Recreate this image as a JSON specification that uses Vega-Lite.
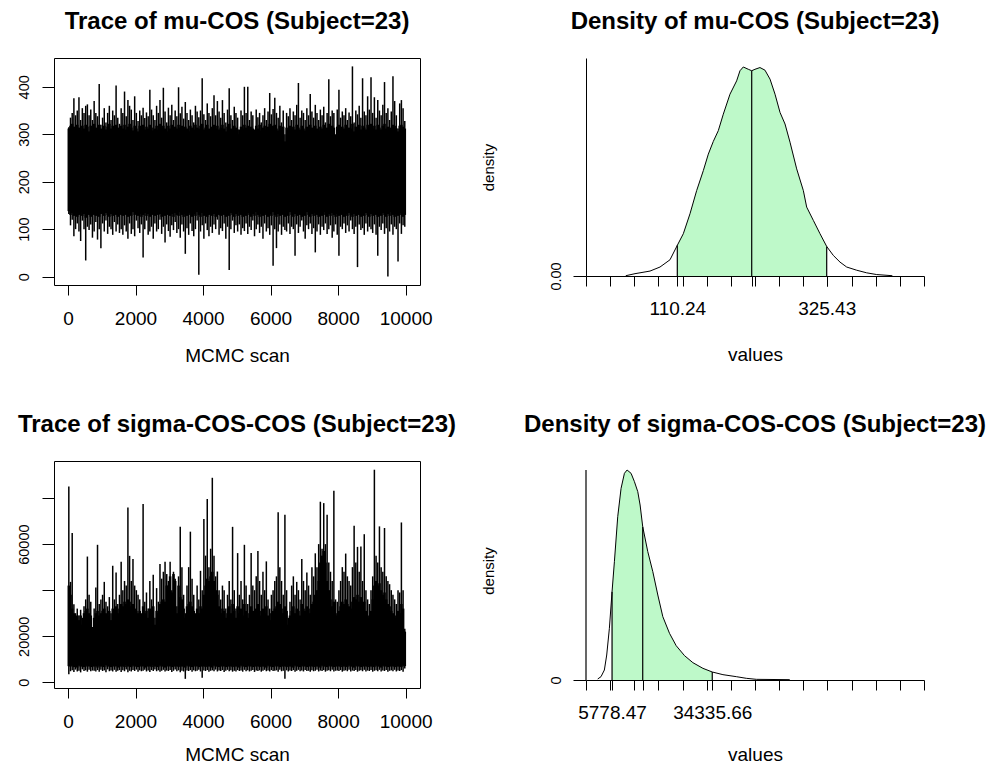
{
"$schema":"https://vega.github.io/schema/vega-lite/v6.json",
"background":"white",
"padding":{"left":15,"top":9,"right":0,"bottom":0},
"config":{
 "font":"Liberation Sans",
 "view":{"stroke":null},
 "axis":{"grid":false,"domainColor":"black","tickColor":"black","labelColor":"black","titleColor":"black","labelFont":"Liberation Sans","titleFont":"Liberation Sans","titleFontWeight":"normal","labelFontSize":19,"titleFontSize":19,"tickWidth":1,"domainWidth":1,"labelOverlap":false,"labelFlush":false},
 "title":{"font":"Liberation Sans","fontSize":24,"fontWeight":"bold","color":"black","anchor":"middle","baseline":"alphabetic","offset":24.3}
},
"datasets":{
"muTrace":[
{"i":25,"mn":132,"lo":138,"hi":312,"mx":315},{"i":75,"mn":108,"lo":130,"hi":318,"mx":335},{"i":125,"mn":120,"lo":134,"hi":322,"mx":345},{"i":175,"mn":85,"lo":128,"hi":316,"mx":376},{"i":225,"mn":100,"lo":132,"hi":310,"mx":340},{"i":275,"mn":112,"lo":126,"hi":320,"mx":350},{"i":325,"mn":95,"lo":130,"hi":314,"mx":378},{"i":375,"mn":75,"lo":136,"hi":308,"mx":330},{"i":425,"mn":118,"lo":128,"hi":318,"mx":355},{"i":475,"mn":100,"lo":132,"hi":312,"mx":345},
{"i":525,"mn":34,"lo":124,"hi":320,"mx":360},{"i":575,"mn":105,"lo":134,"hi":316,"mx":363},{"i":625,"mn":98,"lo":130,"hi":306,"mx":340},{"i":675,"mn":110,"lo":126,"hi":318,"mx":352},{"i":725,"mn":82,"lo":136,"hi":312,"mx":330},{"i":775,"mn":95,"lo":130,"hi":322,"mx":370},{"i":825,"mn":115,"lo":128,"hi":314,"mx":345},{"i":875,"mn":78,"lo":134,"hi":308,"mx":338},{"i":925,"mn":100,"lo":126,"hi":320,"mx":406},{"i":975,"mn":60,"lo":132,"hi":312,"mx":320},
{"i":1025,"mn":112,"lo":136,"hi":305,"mx":335},{"i":1075,"mn":95,"lo":128,"hi":318,"mx":355},{"i":1125,"mn":118,"lo":134,"hi":310,"mx":325},{"i":1175,"mn":90,"lo":130,"hi":316,"mx":345},{"i":1225,"mn":105,"lo":126,"hi":322,"mx":360},{"i":1275,"mn":100,"lo":132,"hi":312,"mx":330},{"i":1325,"mn":88,"lo":128,"hi":318,"mx":350},{"i":1375,"mn":115,"lo":136,"hi":310,"mx":340},{"i":1425,"mn":95,"lo":130,"hi":320,"mx":403},{"i":1475,"mn":110,"lo":126,"hi":314,"mx":335},
{"i":1525,"mn":92,"lo":134,"hi":306,"mx":322},{"i":1575,"mn":100,"lo":130,"hi":318,"mx":355},{"i":1625,"mn":88,"lo":128,"hi":312,"mx":345},{"i":1675,"mn":108,"lo":134,"hi":320,"mx":390},{"i":1725,"mn":95,"lo":130,"hi":310,"mx":338},{"i":1775,"mn":80,"lo":126,"hi":316,"mx":372},{"i":1825,"mn":112,"lo":132,"hi":322,"mx":360},{"i":1875,"mn":90,"lo":128,"hi":314,"mx":352},{"i":1925,"mn":100,"lo":136,"hi":308,"mx":330},{"i":1975,"mn":85,"lo":130,"hi":318,"mx":380},
{"i":2025,"mn":118,"lo":134,"hi":312,"mx":345},{"i":2075,"mn":102,"lo":128,"hi":306,"mx":328},{"i":2125,"mn":92,"lo":132,"hi":318,"mx":350},{"i":2175,"mn":110,"lo":126,"hi":314,"mx":340},{"i":2225,"mn":40,"lo":130,"hi":320,"mx":356},{"i":2275,"mn":100,"lo":134,"hi":310,"mx":334},{"i":2325,"mn":118,"lo":128,"hi":316,"mx":346},{"i":2375,"mn":88,"lo":132,"hi":312,"mx":338},{"i":2425,"mn":95,"lo":126,"hi":320,"mx":394},{"i":2475,"mn":105,"lo":134,"hi":314,"mx":352},
{"i":2525,"mn":80,"lo":130,"hi":308,"mx":340},{"i":2575,"mn":112,"lo":128,"hi":312,"mx":330},{"i":2625,"mn":95,"lo":136,"hi":318,"mx":360},{"i":2675,"mn":100,"lo":130,"hi":310,"mx":345},{"i":2725,"mn":120,"lo":132,"hi":322,"mx":372},{"i":2775,"mn":90,"lo":126,"hi":314,"mx":335},{"i":2825,"mn":105,"lo":134,"hi":318,"mx":398},{"i":2875,"mn":72,"lo":128,"hi":312,"mx":348},{"i":2925,"mn":110,"lo":130,"hi":306,"mx":325},{"i":2975,"mn":96,"lo":136,"hi":318,"mx":356},
{"i":3025,"mn":84,"lo":128,"hi":312,"mx":340},{"i":3075,"mn":108,"lo":132,"hi":320,"mx":362},{"i":3125,"mn":98,"lo":126,"hi":310,"mx":330},{"i":3175,"mn":115,"lo":134,"hi":316,"mx":350},{"i":3225,"mn":92,"lo":130,"hi":312,"mx":338},{"i":3275,"mn":100,"lo":128,"hi":320,"mx":399},{"i":3325,"mn":82,"lo":136,"hi":314,"mx":344},{"i":3375,"mn":110,"lo":130,"hi":318,"mx":358},{"i":3425,"mn":95,"lo":126,"hi":308,"mx":333},{"i":3475,"mn":48,"lo":132,"hi":316,"mx":368},
{"i":3525,"mn":102,"lo":128,"hi":312,"mx":345},{"i":3575,"mn":88,"lo":134,"hi":306,"mx":330},{"i":3625,"mn":112,"lo":130,"hi":318,"mx":352},{"i":3675,"mn":96,"lo":126,"hi":314,"mx":340},{"i":3725,"mn":85,"lo":132,"hi":310,"mx":325},{"i":3775,"mn":100,"lo":128,"hi":320,"mx":360},{"i":3825,"mn":118,"lo":136,"hi":314,"mx":348},{"i":3875,"mn":4,"lo":130,"hi":312,"mx":336},{"i":3925,"mn":95,"lo":126,"hi":318,"mx":350},{"i":3975,"mn":108,"lo":134,"hi":322,"mx":418},
{"i":4025,"mn":80,"lo":128,"hi":310,"mx":342},{"i":4075,"mn":112,"lo":132,"hi":314,"mx":330},{"i":4125,"mn":98,"lo":126,"hi":320,"mx":365},{"i":4175,"mn":85,"lo":130,"hi":312,"mx":345},{"i":4225,"mn":105,"lo":136,"hi":308,"mx":338},{"i":4275,"mn":92,"lo":128,"hi":316,"mx":355},{"i":4325,"mn":110,"lo":132,"hi":320,"mx":382},{"i":4375,"mn":100,"lo":126,"hi":312,"mx":340},{"i":4425,"mn":120,"lo":134,"hi":318,"mx":370},{"i":4475,"mn":88,"lo":130,"hi":310,"mx":348},
{"i":4525,"mn":102,"lo":128,"hi":314,"mx":335},{"i":4575,"mn":96,"lo":136,"hi":320,"mx":372},{"i":4625,"mn":112,"lo":130,"hi":312,"mx":345},{"i":4675,"mn":80,"lo":126,"hi":306,"mx":325},{"i":4725,"mn":105,"lo":132,"hi":316,"mx":352},{"i":4775,"mn":14,"lo":128,"hi":322,"mx":397},{"i":4825,"mn":100,"lo":134,"hi":312,"mx":340},{"i":4875,"mn":118,"lo":130,"hi":308,"mx":330},{"i":4925,"mn":92,"lo":126,"hi":318,"mx":358},{"i":4975,"mn":108,"lo":132,"hi":314,"mx":345},
{"i":5025,"mn":95,"lo":128,"hi":310,"mx":335},{"i":5075,"mn":110,"lo":136,"hi":300,"mx":310},{"i":5125,"mn":88,"lo":130,"hi":316,"mx":350},{"i":5175,"mn":102,"lo":126,"hi":312,"mx":340},{"i":5225,"mn":96,"lo":132,"hi":320,"mx":400},{"i":5275,"mn":112,"lo":128,"hi":314,"mx":345},{"i":5325,"mn":90,"lo":134,"hi":318,"mx":400},{"i":5375,"mn":105,"lo":130,"hi":310,"mx":330},{"i":5425,"mn":98,"lo":126,"hi":316,"mx":348},{"i":5475,"mn":118,"lo":132,"hi":312,"mx":340},
{"i":5525,"mn":85,"lo":128,"hi":300,"mx":310},{"i":5575,"mn":100,"lo":136,"hi":318,"mx":352},{"i":5625,"mn":110,"lo":130,"hi":312,"mx":336},{"i":5675,"mn":92,"lo":126,"hi":320,"mx":345},{"i":5725,"mn":105,"lo":132,"hi":308,"mx":325},{"i":5775,"mn":80,"lo":128,"hi":314,"mx":340},{"i":5825,"mn":112,"lo":134,"hi":318,"mx":355},{"i":5875,"mn":95,"lo":130,"hi":310,"mx":330},{"i":5925,"mn":102,"lo":126,"hi":316,"mx":348},{"i":5975,"mn":88,"lo":132,"hi":322,"mx":387},
{"i":6025,"mn":108,"lo":128,"hi":312,"mx":342},{"i":6075,"mn":23,"lo":136,"hi":318,"mx":353},{"i":6125,"mn":100,"lo":130,"hi":320,"mx":377},{"i":6175,"mn":60,"lo":126,"hi":312,"mx":345},{"i":6225,"mn":95,"lo":132,"hi":308,"mx":335},{"i":6275,"mn":110,"lo":128,"hi":318,"mx":360},{"i":6325,"mn":88,"lo":134,"hi":310,"mx":325},{"i":6375,"mn":105,"lo":130,"hi":316,"mx":350},{"i":6425,"mn":98,"lo":126,"hi":285,"mx":300},{"i":6475,"mn":95,"lo":132,"hi":314,"mx":345},
{"i":6525,"mn":112,"lo":128,"hi":310,"mx":338},{"i":6575,"mn":90,"lo":136,"hi":318,"mx":355},{"i":6625,"mn":105,"lo":130,"hi":312,"mx":330},{"i":6675,"mn":100,"lo":126,"hi":316,"mx":348},{"i":6725,"mn":44,"lo":132,"hi":310,"mx":340},{"i":6775,"mn":110,"lo":128,"hi":320,"mx":362},{"i":6825,"mn":92,"lo":134,"hi":314,"mx":408},{"i":6875,"mn":105,"lo":130,"hi":310,"mx":335},{"i":6925,"mn":118,"lo":126,"hi":318,"mx":350},{"i":6975,"mn":95,"lo":132,"hi":312,"mx":345},
{"i":7025,"mn":80,"lo":128,"hi":308,"mx":330},{"i":7075,"mn":108,"lo":136,"hi":316,"mx":355},{"i":7125,"mn":100,"lo":130,"hi":312,"mx":340},{"i":7175,"mn":112,"lo":126,"hi":320,"mx":385},{"i":7225,"mn":90,"lo":132,"hi":314,"mx":348},{"i":7275,"mn":102,"lo":128,"hi":310,"mx":335},{"i":7325,"mn":51,"lo":134,"hi":318,"mx":362},{"i":7375,"mn":95,"lo":130,"hi":312,"mx":345},{"i":7425,"mn":110,"lo":126,"hi":308,"mx":330},{"i":7475,"mn":88,"lo":132,"hi":316,"mx":352},
{"i":7525,"mn":105,"lo":128,"hi":312,"mx":340},{"i":7575,"mn":98,"lo":136,"hi":320,"mx":358},{"i":7625,"mn":112,"lo":130,"hi":306,"mx":325},{"i":7675,"mn":90,"lo":126,"hi":314,"mx":345},{"i":7725,"mn":100,"lo":132,"hi":322,"mx":416},{"i":7775,"mn":108,"lo":128,"hi":312,"mx":338},{"i":7825,"mn":82,"lo":134,"hi":318,"mx":350},{"i":7875,"mn":95,"lo":130,"hi":314,"mx":345},{"i":7925,"mn":110,"lo":126,"hi":290,"mx":300},{"i":7975,"mn":88,"lo":132,"hi":316,"mx":352},
{"i":8025,"mn":44,"lo":128,"hi":320,"mx":394},{"i":8075,"mn":105,"lo":136,"hi":310,"mx":335},{"i":8125,"mn":100,"lo":130,"hi":316,"mx":348},{"i":8175,"mn":112,"lo":126,"hi":312,"mx":340},{"i":8225,"mn":92,"lo":132,"hi":320,"mx":355},{"i":8275,"mn":108,"lo":128,"hi":308,"mx":330},{"i":8325,"mn":95,"lo":134,"hi":314,"mx":346},{"i":8375,"mn":118,"lo":130,"hi":312,"mx":338},{"i":8425,"mn":100,"lo":126,"hi":322,"mx":443},{"i":8475,"mn":90,"lo":132,"hi":306,"mx":325},
{"i":8525,"mn":105,"lo":128,"hi":316,"mx":350},{"i":8575,"mn":20,"lo":136,"hi":312,"mx":342},{"i":8625,"mn":110,"lo":130,"hi":320,"mx":360},{"i":8675,"mn":98,"lo":126,"hi":310,"mx":335},{"i":8725,"mn":102,"lo":132,"hi":318,"mx":418},{"i":8775,"mn":88,"lo":128,"hi":314,"mx":348},{"i":8825,"mn":112,"lo":134,"hi":310,"mx":340},{"i":8875,"mn":95,"lo":130,"hi":320,"mx":380},{"i":8925,"mn":105,"lo":126,"hi":316,"mx":352},{"i":8975,"mn":100,"lo":132,"hi":322,"mx":420},
{"i":9025,"mn":92,"lo":128,"hi":312,"mx":345},{"i":9075,"mn":110,"lo":136,"hi":318,"mx":378},{"i":9125,"mn":88,"lo":130,"hi":310,"mx":335},{"i":9175,"mn":44,"lo":126,"hi":320,"mx":372},{"i":9225,"mn":105,"lo":132,"hi":314,"mx":350},{"i":9275,"mn":98,"lo":128,"hi":310,"mx":340},{"i":9325,"mn":112,"lo":134,"hi":318,"mx":362},{"i":9375,"mn":90,"lo":130,"hi":322,"mx":410},{"i":9425,"mn":102,"lo":126,"hi":312,"mx":345},{"i":9475,"mn":0,"lo":132,"hi":316,"mx":355},
{"i":9525,"mn":95,"lo":128,"hi":308,"mx":330},{"i":9575,"mn":110,"lo":136,"hi":314,"mx":348},{"i":9625,"mn":88,"lo":130,"hi":320,"mx":422},{"i":9675,"mn":105,"lo":126,"hi":318,"mx":370},{"i":9725,"mn":100,"lo":132,"hi":312,"mx":340},{"i":9775,"mn":32,"lo":128,"hi":306,"mx":312},{"i":9825,"mn":112,"lo":134,"hi":318,"mx":365},{"i":9875,"mn":90,"lo":130,"hi":320,"mx":372},{"i":9925,"mn":108,"lo":126,"hi":316,"mx":355},{"i":9975,"mn":105,"lo":130,"hi":312,"mx":328}
],
"sigmaTrace":[
{"i":25,"mn":3500,"lo":7000,"hi":42000,"mx":85000},{"i":75,"mn":4800,"lo":6800,"hi":38000,"mx":43600},{"i":125,"mn":5200,"lo":7200,"hi":32000,"mx":64800},{"i":175,"mn":4500,"lo":6600,"hi":30000,"mx":33900},{"i":225,"mn":5500,"lo":7000,"hi":28000,"mx":30000},{"i":275,"mn":4700,"lo":6400,"hi":29000,"mx":32000},{"i":325,"mn":5000,"lo":7200,"hi":27000,"mx":29000},{"i":375,"mn":4300,"lo":6800,"hi":29000,"mx":31500},{"i":425,"mn":5600,"lo":7000,"hi":25000,"mx":28000},{"i":475,"mn":4900,"lo":6600,"hi":30000,"mx":33000},
{"i":525,"mn":5200,"lo":7400,"hi":31000,"mx":36000},{"i":575,"mn":4600,"lo":6800,"hi":32000,"mx":54600},{"i":625,"mn":5400,"lo":7000,"hi":30000,"mx":38000},{"i":675,"mn":4800,"lo":6600,"hi":29000,"mx":35000},{"i":725,"mn":5100,"lo":7200,"hi":22000,"mx":24000},{"i":775,"mn":5000,"lo":6800,"hi":28000,"mx":32000},{"i":825,"mn":4700,"lo":7000,"hi":30000,"mx":41200},{"i":875,"mn":5300,"lo":6400,"hi":31000,"mx":59700},{"i":925,"mn":4600,"lo":7200,"hi":29000,"mx":34000},{"i":975,"mn":5500,"lo":6800,"hi":30000,"mx":36000},
{"i":1025,"mn":4900,"lo":7000,"hi":31000,"mx":38000},{"i":1075,"mn":5200,"lo":6600,"hi":32000,"mx":43600},{"i":1125,"mn":4400,"lo":7400,"hi":30000,"mx":35000},{"i":1175,"mn":5600,"lo":6800,"hi":29000,"mx":33000},{"i":1225,"mn":4800,"lo":7000,"hi":31000,"mx":37000},{"i":1275,"mn":5100,"lo":6600,"hi":27000,"mx":30000},{"i":1325,"mn":4700,"lo":7200,"hi":32000,"mx":50600},{"i":1375,"mn":5400,"lo":6800,"hi":30000,"mx":36000},{"i":1425,"mn":4600,"lo":7000,"hi":33000,"mx":47700},{"i":1475,"mn":5000,"lo":6400,"hi":30000,"mx":34000},
{"i":1525,"mn":5300,"lo":7200,"hi":32000,"mx":38000},{"i":1575,"mn":4500,"lo":6800,"hi":34000,"mx":52300},{"i":1625,"mn":5200,"lo":7000,"hi":33000,"mx":40000},{"i":1675,"mn":4800,"lo":6600,"hi":35000,"mx":44000},{"i":1725,"mn":5600,"lo":7400,"hi":34000,"mx":42000},{"i":1775,"mn":4400,"lo":6800,"hi":36000,"mx":75900},{"i":1825,"mn":5000,"lo":7000,"hi":35000,"mx":54900},{"i":1875,"mn":4700,"lo":6600,"hi":33000,"mx":44000},{"i":1925,"mn":5300,"lo":7200,"hi":34000,"mx":53500},{"i":1975,"mn":4900,"lo":6800,"hi":32000,"mx":42000},
{"i":2025,"mn":5500,"lo":7000,"hi":31000,"mx":40000},{"i":2075,"mn":4600,"lo":6600,"hi":30000,"mx":38000},{"i":2125,"mn":5200,"lo":7200,"hi":31000,"mx":36000},{"i":2175,"mn":4800,"lo":6800,"hi":27000,"mx":30000},{"i":2225,"mn":5000,"lo":7000,"hi":33000,"mx":77400},{"i":2275,"mn":5400,"lo":6400,"hi":30000,"mx":35000},{"i":2325,"mn":4700,"lo":7200,"hi":31000,"mx":39000},{"i":2375,"mn":5100,"lo":6800,"hi":28000,"mx":32000},{"i":2425,"mn":4500,"lo":7000,"hi":32000,"mx":44000},{"i":2475,"mn":5300,"lo":6600,"hi":30000,"mx":36000},
{"i":2525,"mn":4900,"lo":7400,"hi":33000,"mx":46700},{"i":2575,"mn":5600,"lo":6800,"hi":25000,"mx":28000},{"i":2625,"mn":4800,"lo":7000,"hi":31000,"mx":40900},{"i":2675,"mn":5200,"lo":6600,"hi":30000,"mx":35000},{"i":2725,"mn":4600,"lo":7200,"hi":34000,"mx":51400},{"i":2775,"mn":5000,"lo":6800,"hi":35000,"mx":45000},{"i":2825,"mn":5400,"lo":7000,"hi":36000,"mx":48000},{"i":2875,"mn":4700,"lo":6400,"hi":35000,"mx":52300},{"i":2925,"mn":5100,"lo":7200,"hi":42000,"mx":47000},{"i":2975,"mn":4900,"lo":6800,"hi":42000,"mx":44000},
{"i":3025,"mn":5300,"lo":7000,"hi":46000,"mx":52300},{"i":3075,"mn":4500,"lo":6600,"hi":39000,"mx":40000},{"i":3125,"mn":5000,"lo":7400,"hi":47000,"mx":48000},{"i":3175,"mn":5600,"lo":6800,"hi":44000,"mx":45000},{"i":3225,"mn":4800,"lo":7000,"hi":30000,"mx":33000},{"i":3275,"mn":5200,"lo":6600,"hi":42000,"mx":46000},{"i":3325,"mn":4400,"lo":7200,"hi":37000,"mx":67500},{"i":3375,"mn":5000,"lo":6800,"hi":36000,"mx":50000},{"i":3425,"mn":4700,"lo":7000,"hi":32000,"mx":38000},{"i":3475,"mn":1500,"lo":6400,"hi":28000,"mx":30000},
{"i":3525,"mn":5100,"lo":7200,"hi":33000,"mx":42000},{"i":3575,"mn":4900,"lo":6800,"hi":34000,"mx":50000},{"i":3625,"mn":5300,"lo":7000,"hi":35000,"mx":65400},{"i":3675,"mn":4600,"lo":6600,"hi":33000,"mx":45000},{"i":3725,"mn":5200,"lo":7200,"hi":31000,"mx":38000},{"i":3775,"mn":4800,"lo":6800,"hi":27000,"mx":30000},{"i":3825,"mn":5000,"lo":7000,"hi":32000,"mx":42000},{"i":3875,"mn":5400,"lo":6600,"hi":30000,"mx":36000},{"i":3925,"mn":4700,"lo":7400,"hi":33000,"mx":48400},{"i":3975,"mn":2000,"lo":6800,"hi":32000,"mx":40000},
{"i":4025,"mn":5100,"lo":7000,"hi":38000,"mx":70900},{"i":4075,"mn":4900,"lo":6600,"hi":42000,"mx":55000},{"i":4125,"mn":5300,"lo":7200,"hi":45000,"mx":79600},{"i":4175,"mn":4600,"lo":6800,"hi":44000,"mx":50000},{"i":4225,"mn":5000,"lo":7000,"hi":46000,"mx":58000},{"i":4275,"mn":5200,"lo":6400,"hi":48000,"mx":88800},{"i":4325,"mn":4800,"lo":7200,"hi":44000,"mx":55000},{"i":4375,"mn":5500,"lo":6800,"hi":40000,"mx":46000},{"i":4425,"mn":4700,"lo":7000,"hi":38000,"mx":48100},{"i":4475,"mn":5100,"lo":6600,"hi":33000,"mx":40000},
{"i":4525,"mn":4900,"lo":7200,"hi":30000,"mx":36000},{"i":4575,"mn":5300,"lo":6800,"hi":32000,"mx":42000},{"i":4625,"mn":4500,"lo":7000,"hi":31000,"mx":40000},{"i":4675,"mn":5000,"lo":6600,"hi":28000,"mx":32000},{"i":4725,"mn":5400,"lo":7400,"hi":30000,"mx":38000},{"i":4775,"mn":4800,"lo":6800,"hi":33000,"mx":44000},{"i":4825,"mn":5200,"lo":7000,"hi":30000,"mx":36000},{"i":4875,"mn":4600,"lo":6600,"hi":34000,"mx":67500},{"i":4925,"mn":5000,"lo":7200,"hi":31000,"mx":40000},{"i":4975,"mn":4700,"lo":6800,"hi":28000,"mx":32000},
{"i":5025,"mn":5300,"lo":7000,"hi":33000,"mx":56100},{"i":5075,"mn":4900,"lo":6400,"hi":30000,"mx":38000},{"i":5125,"mn":5100,"lo":7200,"hi":32000,"mx":44000},{"i":5175,"mn":4600,"lo":6800,"hi":29000,"mx":36000},{"i":5225,"mn":5400,"lo":7000,"hi":34000,"mx":59700},{"i":5275,"mn":4800,"lo":6600,"hi":31000,"mx":42000},{"i":5325,"mn":5200,"lo":7200,"hi":28000,"mx":34000},{"i":5375,"mn":4700,"lo":6800,"hi":30000,"mx":38000},{"i":5425,"mn":5000,"lo":7000,"hi":33000,"mx":56100},{"i":5475,"mn":5300,"lo":6600,"hi":31000,"mx":42000},
{"i":5525,"mn":4500,"lo":7400,"hi":30000,"mx":40000},{"i":5575,"mn":5100,"lo":6800,"hi":32000,"mx":46000},{"i":5625,"mn":4900,"lo":7000,"hi":34000,"mx":57000},{"i":5675,"mn":5200,"lo":6600,"hi":31000,"mx":44000},{"i":5725,"mn":4600,"lo":7200,"hi":29000,"mx":38000},{"i":5775,"mn":5000,"lo":6800,"hi":32000,"mx":48000},{"i":5825,"mn":5400,"lo":7000,"hi":30000,"mx":40000},{"i":5875,"mn":4800,"lo":6400,"hi":33000,"mx":52500},{"i":5925,"mn":5100,"lo":7200,"hi":29000,"mx":36000},{"i":5975,"mn":4700,"lo":6800,"hi":27000,"mx":32000},
{"i":6025,"mn":5300,"lo":7000,"hi":30000,"mx":38000},{"i":6075,"mn":4900,"lo":6600,"hi":31000,"mx":40000},{"i":6125,"mn":5000,"lo":7200,"hi":32000,"mx":44000},{"i":6175,"mn":5200,"lo":6800,"hi":33000,"mx":46000},{"i":6225,"mn":4600,"lo":7000,"hi":35000,"mx":73800},{"i":6275,"mn":5400,"lo":6600,"hi":34000,"mx":50000},{"i":6325,"mn":4800,"lo":7400,"hi":32000,"mx":44000},{"i":6375,"mn":5000,"lo":6800,"hi":30000,"mx":38000},{"i":6425,"mn":1500,"lo":7000,"hi":33000,"mx":72800},{"i":6475,"mn":5200,"lo":6600,"hi":31000,"mx":40000},
{"i":6525,"mn":4700,"lo":7200,"hi":25000,"mx":28000},{"i":6575,"mn":5100,"lo":6800,"hi":29000,"mx":35000},{"i":6625,"mn":4900,"lo":7000,"hi":31000,"mx":42000},{"i":6675,"mn":5300,"lo":6400,"hi":33000,"mx":46000},{"i":6725,"mn":4600,"lo":7200,"hi":30000,"mx":38000},{"i":6775,"mn":5000,"lo":6800,"hi":32000,"mx":43600},{"i":6825,"mn":5400,"lo":7000,"hi":31000,"mx":40000},{"i":6875,"mn":4800,"lo":6600,"hi":29000,"mx":36000},{"i":6925,"mn":5100,"lo":7200,"hi":34000,"mx":53500},{"i":6975,"mn":4700,"lo":6800,"hi":32000,"mx":44000},
{"i":7025,"mn":5300,"lo":7000,"hi":31000,"mx":40000},{"i":7075,"mn":4900,"lo":6600,"hi":33000,"mx":47700},{"i":7125,"mn":5000,"lo":7400,"hi":32000,"mx":42000},{"i":7175,"mn":4600,"lo":6800,"hi":30000,"mx":38000},{"i":7225,"mn":5200,"lo":7000,"hi":34000,"mx":50000},{"i":7275,"mn":4800,"lo":6600,"hi":35000,"mx":46000},{"i":7325,"mn":5000,"lo":7200,"hi":38000,"mx":56000},{"i":7375,"mn":5400,"lo":6800,"hi":40000,"mx":50000},{"i":7425,"mn":4700,"lo":7000,"hi":44000,"mx":60000},{"i":7475,"mn":5100,"lo":6400,"hi":52000,"mx":78400},
{"i":7525,"mn":4900,"lo":7200,"hi":55000,"mx":58000},{"i":7575,"mn":5300,"lo":6800,"hi":57000,"mx":77800},{"i":7625,"mn":4600,"lo":7000,"hi":52000,"mx":60000},{"i":7675,"mn":5000,"lo":6600,"hi":44000,"mx":72800},{"i":7725,"mn":5200,"lo":7200,"hi":40000,"mx":52000},{"i":7775,"mn":4800,"lo":6800,"hi":36000,"mx":48000},{"i":7825,"mn":5400,"lo":7000,"hi":33000,"mx":44000},{"i":7875,"mn":4700,"lo":6600,"hi":35000,"mx":83200},{"i":7925,"mn":5000,"lo":7200,"hi":30000,"mx":36000},{"i":7975,"mn":5100,"lo":6800,"hi":29000,"mx":35000},
{"i":8025,"mn":4900,"lo":7000,"hi":31000,"mx":40000},{"i":8075,"mn":5300,"lo":6600,"hi":33000,"mx":44000},{"i":8125,"mn":4600,"lo":7400,"hi":35000,"mx":50000},{"i":8175,"mn":5000,"lo":6800,"hi":34000,"mx":48000},{"i":8225,"mn":5200,"lo":7000,"hi":36000,"mx":55900},{"i":8275,"mn":4800,"lo":6600,"hi":34000,"mx":46000},{"i":8325,"mn":5400,"lo":7200,"hi":33000,"mx":44000},{"i":8375,"mn":4700,"lo":6800,"hi":32000,"mx":42000},{"i":8425,"mn":5100,"lo":7000,"hi":35000,"mx":50000},{"i":8475,"mn":4900,"lo":6400,"hi":37000,"mx":68000},
{"i":8525,"mn":5300,"lo":7200,"hi":36000,"mx":52000},{"i":8575,"mn":4600,"lo":6800,"hi":38000,"mx":58800},{"i":8625,"mn":5000,"lo":7000,"hi":35000,"mx":48000},{"i":8675,"mn":5200,"lo":6600,"hi":37000,"mx":59000},{"i":8725,"mn":4800,"lo":7200,"hi":33000,"mx":44000},{"i":8775,"mn":5400,"lo":6800,"hi":35000,"mx":64300},{"i":8825,"mn":4700,"lo":7000,"hi":31000,"mx":40000},{"i":8875,"mn":5100,"lo":6600,"hi":29000,"mx":36000},{"i":8925,"mn":4900,"lo":7400,"hi":28000,"mx":34000},{"i":8975,"mn":5300,"lo":6800,"hi":31000,"mx":40000},
{"i":9025,"mn":4600,"lo":7000,"hi":36000,"mx":46000},{"i":9075,"mn":5000,"lo":6600,"hi":42000,"mx":92300},{"i":9125,"mn":5200,"lo":7200,"hi":44000,"mx":55000},{"i":9175,"mn":4800,"lo":6800,"hi":42000,"mx":52000},{"i":9225,"mn":5400,"lo":7000,"hi":43000,"mx":67700},{"i":9275,"mn":4700,"lo":6400,"hi":40000,"mx":50000},{"i":9325,"mn":5100,"lo":7200,"hi":38000,"mx":48000},{"i":9375,"mn":4900,"lo":6800,"hi":39000,"mx":67000},{"i":9425,"mn":5300,"lo":7000,"hi":36000,"mx":46000},{"i":9475,"mn":4600,"lo":6600,"hi":34000,"mx":44000},
{"i":9525,"mn":5000,"lo":7200,"hi":33000,"mx":42600},{"i":9575,"mn":5200,"lo":6800,"hi":31000,"mx":40000},{"i":9625,"mn":4800,"lo":7000,"hi":30000,"mx":38000},{"i":9675,"mn":5400,"lo":6600,"hi":29000,"mx":36000},{"i":9725,"mn":4700,"lo":7400,"hi":28000,"mx":34000},{"i":9775,"mn":5100,"lo":6800,"hi":31000,"mx":40000},{"i":9825,"mn":4900,"lo":7000,"hi":30000,"mx":39000},{"i":9875,"mn":5300,"lo":6600,"hi":34000,"mx":69400},{"i":9925,"mn":4600,"lo":7200,"hi":32000,"mx":40000},{"i":9975,"mn":6000,"lo":7000,"hi":22000,"mx":23300}
],
"muDens":[
{"v":36,"d":0.00001},{"v":49.3,"d":0.00008},{"v":70.9,"d":0.00017},{"v":85.3,"d":0.00031},{"v":99.7,"d":0.00056},{"v":110.24,"d":0.00106},{"v":118.9,"d":0.00146},{"v":128.5,"d":0.00215},{"v":138.1,"d":0.00295},{"v":147.7,"d":0.00364},{"v":154.9,"d":0.00421},{"v":162.1,"d":0.00465},{"v":169.3,"d":0.00502},{"v":176.5,"d":0.00559},{"v":186.1,"d":0.00628},{"v":195.7,"d":0.00674},{"v":200.5,"d":0.00709},{"v":205.3,"d":0.00722},{"v":212.5,"d":0.00714},{"v":217.4,"d":0.00709},{"v":222.1,"d":0.00714},{"v":229.3,"d":0.0072},{"v":236.5,"d":0.00711},{"v":243.8,"d":0.0068},{"v":251,"d":0.00628},{"v":258.2,"d":0.00565},{"v":265.4,"d":0.00525},{"v":272.6,"d":0.00462},{"v":282.2,"d":0.0037},{"v":291.8,"d":0.00295},{"v":296.6,"d":0.00238},{"v":306.2,"d":0.00192},{"v":315.8,"d":0.00146},{"v":325.43,"d":0.00102},{"v":335,"d":0.00071},{"v":344.6,"d":0.00048},{"v":354.2,"d":0.00031},{"v":368.6,"d":0.0002},{"v":383,"d":0.00011},{"v":397.4,"d":0.00005},{"v":420,"d":0.00001}
],
"muMarks":[{"v":110.24,"d":0.00106},{"v":217.4,"d":0.00709},{"v":325.43,"d":0.00102}],
"sigmaDens":[
{"v":1685,"d":3.3e-7},{"v":2637,"d":1.11e-6},{"v":3589,"d":3.33e-6},{"v":4255,"d":8.33e-6},{"v":5017,"d":1.722e-5},{"v":5778.47,"d":2.944e-5},{"v":6445,"d":3.944e-5},{"v":7397,"d":5.444e-5},{"v":8349,"d":6.389e-5},{"v":9301,"d":6.889e-5},{"v":10062,"d":7.0e-5},{"v":11204,"d":6.889e-5},{"v":12156,"d":6.611e-5},{"v":13108,"d":6.278e-5},{"v":13774,"d":5.833e-5},{"v":14517,"d":5.111e-5},{"v":15964,"d":4.278e-5},{"v":17392,"d":3.611e-5},{"v":18820,"d":2.833e-5},{"v":20247,"d":2.111e-5},{"v":22151,"d":1.556e-5},{"v":24055,"d":1.144e-5},{"v":26435,"d":8.11e-6},{"v":28815,"d":5.78e-6},{"v":31670,"d":3.89e-6},{"v":34335.66,"d":2.67e-6},{"v":37382,"d":1.78e-6},{"v":41189,"d":1.11e-6},{"v":44045,"d":5.6e-7},{"v":46900,"d":2.2e-7},{"v":56420,"d":1.1e-7}
],
"sigmaMarks":[{"v":-1646,"d":7.0e-5},{"v":5778.47,"d":2.944e-5},{"v":14517,"d":5.111e-5},{"v":34335.66,"d":2.67e-6}]
},
"columns":2,
"bounds":"flush",
"align":"all",
"spacing":{"row":176,"column":166},
"concat":[
{
 "width":366,"height":227,
 "view":{"stroke":"black","strokeWidth":1},
 "title":{"text":"Trace of mu-COS (Subject=23)"},
 "data":{"name":"muTrace"},
 "layer":[
  {"mark":{"type":"rule","color":"black","strokeWidth":1.5},
   "encoding":{
    "x":{"field":"i","type":"quantitative","scale":{"domain":[-414,10426],"nice":false,"zero":false},"axis":{"values":[0,2000,4000,6000,8000,10000],"tickCount":50,"format":"d","domain":false,"tickSize":10,"labelPadding":14,"title":"MCMC scan","titlePadding":18}},
    "y":{"field":"mn","type":"quantitative","scale":{"domain":[-17.7,460.7],"nice":false,"zero":false},"axis":{"values":[0,100,200,300,400],"tickCount":50,"format":"d","domain":false,"tickSize":12,"labelPadding":11,"labelAngle":-90,"labelAlign":"center","labelBaseline":"bottom","labelFontSize":14.5,"title":null}},
    "y2":{"field":"mx"}}},
  {"mark":{"type":"rule","color":"black","strokeWidth":2.6},
   "encoding":{
    "x":{"field":"i","type":"quantitative"},
    "y":{"field":"lo","type":"quantitative"},
    "y2":{"field":"hi"}}}
 ]
},
{
 "width":338,"height":218,
 "title":{"text":"Density of mu-COS (Subject=23)"},
 "layer":[
  {"data":{"name":"muDens"},
   "transform":[{"filter":"datum.v >= 110.24 && datum.v <= 325.43"}],
   "mark":{"type":"area","color":"#BEF9C9","opacity":1},
   "encoding":{
    "x":{"field":"v","type":"quantitative","scale":{"domain":[-21.3,465.6],"nice":false,"zero":false},"axis":{"values":[-21.29,13.48,48.26,83.04,117.82,152.6,187.38,222.16,256.94,291.72,326.5,361.28,396.06,430.84,465.59,110.24,217.4,325.43],"tickCount":100,"labelExpr":"datum.value == 110.24 ? '110.24' : (datum.value == 325.43 ? '325.43' : '')","domain":true,"tickSize":10,"labelPadding":13,"title":"values","titlePadding":27}},
    "y":{"field":"d","type":"quantitative","scale":{"domain":[0,0.00753],"nice":false},"axis":{"values":[0],"labelExpr":"'0.00'","domain":true,"tickSize":13,"labelPadding":10,"labelAngle":-90,"labelAlign":"center","labelBaseline":"bottom","labelFontSize":14.5,"title":"density","titleFontSize":15,"titleAngle":-90,"titleBaseline":"bottom","titlePadding":52}}}},
  {"data":{"name":"muDens"},
   "mark":{"type":"line","color":"black","strokeWidth":1},
   "encoding":{"x":{"field":"v","type":"quantitative"},"y":{"field":"d","type":"quantitative"}}},
  {"data":{"name":"muMarks"},
   "mark":{"type":"rule","color":"black","strokeWidth":1.2},
   "encoding":{"x":{"field":"v","type":"quantitative"},"y":{"field":"d","type":"quantitative"},"y2":{"datum":0}}}
 ]
},
{
 "width":366,"height":227,
 "view":{"stroke":"black","strokeWidth":1},
 "title":{"text":"Trace of sigma-COS-COS (Subject=23)"},
 "data":{"name":"sigmaTrace"},
 "layer":[
  {"mark":{"type":"rule","color":"black","strokeWidth":1.5},
   "encoding":{
    "x":{"field":"i","type":"quantitative","scale":{"domain":[-414,10426],"nice":false,"zero":false},"axis":{"values":[0,2000,4000,6000,8000,10000],"tickCount":50,"format":"d","domain":false,"tickSize":10,"labelPadding":14,"title":"MCMC scan","titlePadding":14}},
    "y":{"field":"mn","type":"quantitative","scale":{"domain":[-2478,96087],"nice":false,"zero":false},"axis":{"values":[0,20000,40000,60000,80000],"tickCount":50,"labelExpr":"(datum.value == 40000 || datum.value == 80000) ? '' : format(datum.value, 'd')","domain":false,"tickSize":12,"labelPadding":11,"labelAngle":-90,"labelAlign":"center","labelBaseline":"bottom","labelFontSize":14.5,"title":null}},
    "y2":{"field":"mx"}}},
  {"mark":{"type":"rule","color":"black","strokeWidth":2.6},
   "encoding":{
    "x":{"field":"i","type":"quantitative"},
    "y":{"field":"lo","type":"quantitative"},
    "y2":{"field":"hi"}}}
 ]
},
{
 "width":338,"height":219,
 "title":{"text":"Density of sigma-COS-COS (Subject=23)"},
 "layer":[
  {"data":{"name":"sigmaDens"},
   "transform":[{"filter":"datum.v >= 5778.47 && datum.v <= 34335.66"}],
   "mark":{"type":"area","color":"#BEF9C9","opacity":1},
   "encoding":{
    "x":{"field":"v","type":"quantitative","scale":{"domain":[-1646,94677],"nice":false,"zero":false},"axis":{"values":[-1645,5234,12114,18995,25875,32755,39635,46515,53395,60276,67156,74036,80916,87796,94676,5778.47,14517,34335.66],"tickCount":100,"labelExpr":"datum.value == 5778.47 ? '5778.47' : (datum.value == 34335.66 ? '34335.66' : '')","domain":true,"tickSize":10,"labelPadding":13,"title":"values","titlePadding":23}},
    "y":{"field":"d","type":"quantitative","scale":{"domain":[0,7.3e-5],"nice":false},"axis":{"values":[0],"labelExpr":"'0'","domain":false,"tickSize":13,"labelPadding":10,"labelAngle":-90,"labelAlign":"center","labelBaseline":"bottom","labelFontSize":14.5,"title":"density","titleFontSize":15,"titleAngle":-90,"titleBaseline":"bottom","titlePadding":52}}}},
  {"data":{"name":"sigmaDens"},
   "mark":{"type":"line","color":"black","strokeWidth":1},
   "encoding":{"x":{"field":"v","type":"quantitative"},"y":{"field":"d","type":"quantitative"}}},
  {"data":{"name":"sigmaMarks"},
   "mark":{"type":"rule","color":"black","strokeWidth":1.2},
   "encoding":{"x":{"field":"v","type":"quantitative"},"y":{"field":"d","type":"quantitative"},"y2":{"datum":0}}}
 ]
}
]
}
